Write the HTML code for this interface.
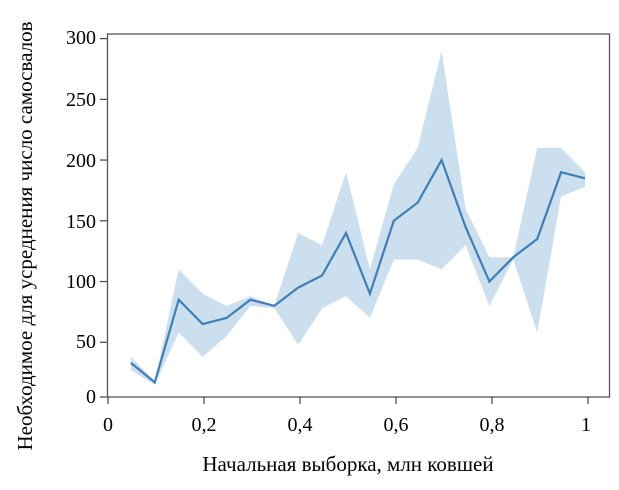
<!DOCTYPE html>
<html><head><meta charset="utf-8"><style>
body{margin:0;background:#fff;}
svg text{font-family:"Liberation Serif",serif;fill:#000;}
</style></head><body>
<svg id="s" width="619" height="485" xmlns="http://www.w3.org/2000/svg">
<rect x="107.5" y="34" width="502" height="363" fill="none" stroke="#555" stroke-width="1.3"/>
<g id="g"></g>
<g font-size="20">
<text x="96" y="44" text-anchor="end">300</text>
<text x="96" y="106" text-anchor="end">250</text>
<text x="96" y="167" text-anchor="end">200</text>
<text x="96" y="228" text-anchor="end">150</text>
<text x="96" y="288" text-anchor="end">100</text>
<text x="96" y="348" text-anchor="end">50</text>
<text x="96" y="403" text-anchor="end">0</text>
<text x="108" y="431" text-anchor="middle">0</text>
<text x="204" y="431" text-anchor="middle">0,2</text>
<text x="300" y="431" text-anchor="middle">0,4</text>
<text x="396" y="431" text-anchor="middle">0,6</text>
<text x="492" y="431" text-anchor="middle">0,8</text>
<text x="586" y="431" text-anchor="middle">1</text>
</g>
<g font-size="21">
<text x="348" y="471" text-anchor="middle">Начальная выборка, млн ковшей</text>
<text transform="translate(32,236) rotate(-90)" text-anchor="middle">Необходимое для усреднения число самосвалов</text>
</g>
</svg>
<script>
var m=[33,17,85,65,70,85,80,95,105,140,90,150,165,200,145,100,120,135,190,185],
u=[38,18,110,90,80,88,80,140,130,190,110,180,210,290,160,120,120,210,210,190],
l=[27,15,58,38,55,80,78,48,78,88,70,118,118,110,130,80,118,58,170,178];
function X(v){return 107+478*v}function Y(v){return 403-1.2147*v}
var g=document.getElementById('g'),s='';
[300,250,200,150,100,50].forEach(function(v){s+='<line x1="100" x2="107" y1="'+Y(v)+'" y2="'+Y(v)+'" stroke="#444" stroke-width="1.2"/>'});
s+='<line x1="100" x2="107" y1="397" y2="397" stroke="#444" stroke-width="1.2"/>';
[0,.2,.4,.6,.8].forEach(function(v){var x=108+96*v*5;s+='<line x1="'+x+'" x2="'+x+'" y1="397" y2="404" stroke="#444" stroke-width="1.2"/>'});
s+='<line x1="588" x2="588" y1="397" y2="404" stroke="#444" stroke-width="1.2"/>';
var p=[],q=[],r=[];
for(var i=0;i<20;i++){var x=X(0.05*(i+1));p.push(x+','+Y(u[i]));q.unshift(x+','+Y(l[i]));r.push(x+','+Y(m[i]));}
s+='<polygon points="'+p.concat(q).join(' ')+'" fill="#b7d2e8" fill-opacity="0.7"/>';
s+='<polyline points="'+r.join(' ')+'" fill="none" stroke="#3f7fb5" stroke-width="2.2"/>';
g.innerHTML=s;
</script>
</body></html>
